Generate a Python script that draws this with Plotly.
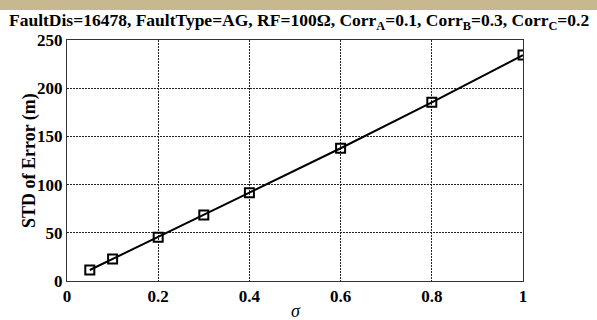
import plotly.graph_objects as go

sigma = [0.05, 0.1, 0.2, 0.3, 0.4, 0.6, 0.8, 1.0]
std_err = [11.4, 22.8, 45.3, 68.5, 91.6, 137.7, 185.4, 234.4]
x_ticks = [0, 0.2, 0.4, 0.6, 0.8, 1]
x_ticklabels = ["0", "0.2", "0.4", "0.6", "0.8", "1"]
y_ticks = [0, 50, 100, 150, 200, 250]

W, H = 597, 320
L, R, T, B = 67, 74, 40, 39
pw, ph = W - L - R, H - T - B

fig = go.Figure()
fig.add_trace(go.Scatter(
    x=sigma, y=std_err, mode="lines+markers",
    line=dict(color="black", width=2),
    marker=dict(symbol="square-open", size=9, color="black", line=dict(width=2, color="black")),
    showlegend=False,
))

tickfont = dict(family="Liberation Serif", size=17, color="black", weight="bold")
grid = dict(showgrid=True, gridcolor="#222222", gridwidth=1, griddash="2px,1px",
            showline=True, linecolor="#333333", linewidth=1, mirror=True,
            ticks="", zeroline=False, tickfont=tickfont)

fig.update_layout(
    width=W, height=H,
    margin=dict(l=L, r=R, t=T, b=B),
    paper_bgcolor="white", plot_bgcolor="white",
    font=dict(family="Liberation Serif", color="black"),
    xaxis=dict(range=[0, 1], tickvals=x_ticks, ticktext=x_ticklabels, **grid),
    yaxis=dict(range=[0, 250], tickvals=y_ticks, **grid),
    shapes=[dict(type="rect", xref="paper", yref="paper",
                 x0=-L / pw, x1=1 + R / pw, y0=1 + (T - 10) / ph, y1=1 + T / ph + 0.01,
                 fillcolor="#c8b88f", line=dict(width=0), layer="below")],
    annotations=[
        dict(text="<b>FaultDis=16478, FaultType=AG, RF=100Ω, Corr<sub>A</sub>=0.1, Corr<sub>B</sub>=0.3, Corr<sub>C</sub>=0.2</b>",
             xref="paper", yref="paper", x=(W / 2 - L) / pw, y=1 + (T - 21) / ph,
             xanchor="center", yanchor="middle", showarrow=False,
             font=dict(family="Liberation Serif", size=17.5, color="black")),
        dict(text="<b>STD of Error (m)</b>", textangle=-90,
             xref="paper", yref="paper", x=(29 - L) / pw, y=(H - B - 161) / ph,
             xanchor="center", yanchor="middle", showarrow=False,
             font=dict(family="Liberation Serif", size=18, color="black")),
        dict(text="<i>σ</i>",
             xref="paper", yref="paper", x=(296 - L) / pw, y=-(311 - (H - B)) / ph,
             xanchor="center", yanchor="middle", showarrow=False,
             font=dict(family="Liberation Serif", size=18, color="black")),
    ],
)

fig.write_html("out.html")
